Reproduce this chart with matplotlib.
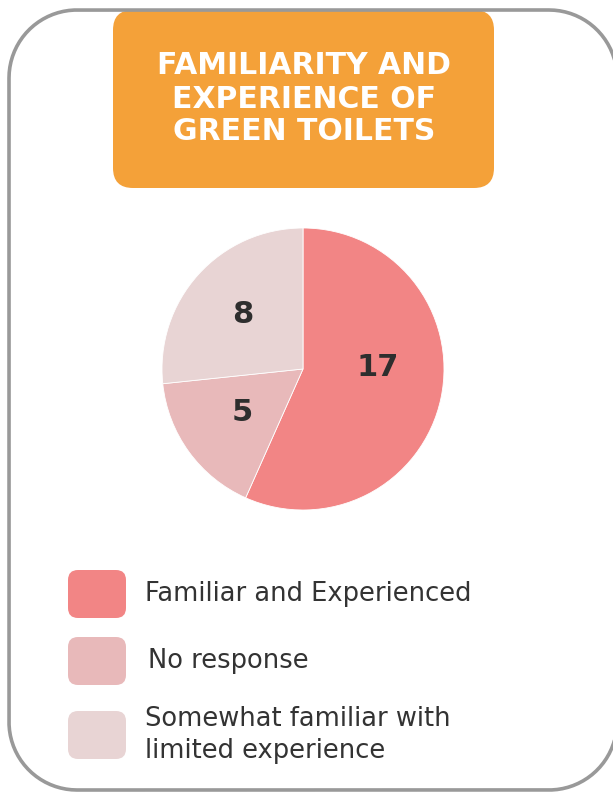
import matplotlib
matplotlib.use("Agg")
import matplotlib.pyplot as plt
import numpy as np
from matplotlib.patches import FancyBboxPatch

# data
labels = [
    "Familiar and Experienced",
    "No response",
    "Somewhat familiar with\nlimited experience",
]
counts = [17, 5, 8]
colours = ["#F28585", "#E8B9BA", "#E8D4D4"]
title_lines = ["FAMILIARITY AND", "EXPERIENCE OF", "GREEN TOILETS"]

W, H = 613, 793
fig = plt.figure(figsize=(W / 100, H / 100), dpi=100)
fig.patch.set_facecolor("white")

# background axes in pixel coordinates
bg = fig.add_axes([0, 0, 1, 1])
bg.set_xlim(0, W)
bg.set_ylim(0, H)
bg.axis("off")


def rbox(x0, y0, x1, y1, r, **kw):
    # x/y given as image pixels with y measured from the top
    bg.add_patch(FancyBboxPatch((x0 + r, H - y1 + r), x1 - x0 - 2 * r, y1 - y0 - 2 * r,
                                boxstyle=f"round,pad={r}", **kw))


def rframe(x0, y0, x1, y1, r, **kw):
    # rounded outline as a polyline (runs past the right edge of the canvas)
    t = np.linspace(0, np.pi / 2, 40)
    yb, yt = H - y1, H - y0
    xs, ys = [], []
    for cx, cy, a0 in [(x1 - r, yt - r, 0), (x0 + r, yt - r, np.pi / 2),
                       (x0 + r, yb + r, np.pi), (x1 - r, yb + r, 1.5 * np.pi)]:
        xs.extend(cx + r * np.cos(a0 + t))
        ys.extend(cy + r * np.sin(a0 + t))
    xs.append(xs[0])
    ys.append(ys[0])
    bg.plot(xs, ys, clip_on=False, solid_joinstyle="round", **kw)


# outer rounded frame
rframe(9, 10, 617, 790, 68, color="#999999", lw=2.6)

# orange title box
rbox(113, 10, 494, 188, 20, fc="#F4A139", ec="none")
for i, line in enumerate(title_lines):
    bg.text(304, H - (66 + i * 33), line, ha="center", va="center", color="white",
            fontsize=21.5, fontweight="bold", family="DejaVu Sans")

# pie
pax = fig.add_axes([162 / W, (H - 510) / H, 282 / W, 282 / H])
wedges, _ = pax.pie(counts, colors=colours, startangle=90, counterclock=False,
                    wedgeprops=dict(linewidth=0.6, edgecolor="white"))
pax.set_aspect("equal")
pax.set_xlim(-1, 1)
pax.set_ylim(-1, 1)
label_pos = [(0.53, 0.01), (-0.43, -0.31), (-0.43, 0.39)]
for (x, y), v in zip(label_pos, counts):
    pax.text(x, y, str(v), ha="center", va="center", color="#2E2E2E",
             fontsize=22, fontweight="bold", family="DejaVu Sans")

# legend
legend_y = [594, 661, 735]
text_x = [145, 148, 145]
for y, tx, lab, c in zip(legend_y, text_x, labels, colours):
    rbox(68, y - 24, 126, y + 24, 10, fc=c, ec="none")
    bg.text(tx, H - y, lab, ha="left", va="center", color="#333333",
            fontsize=18.5, family="DejaVu Sans", linespacing=1.35)

fig.savefig("out.png", dpi=100)
